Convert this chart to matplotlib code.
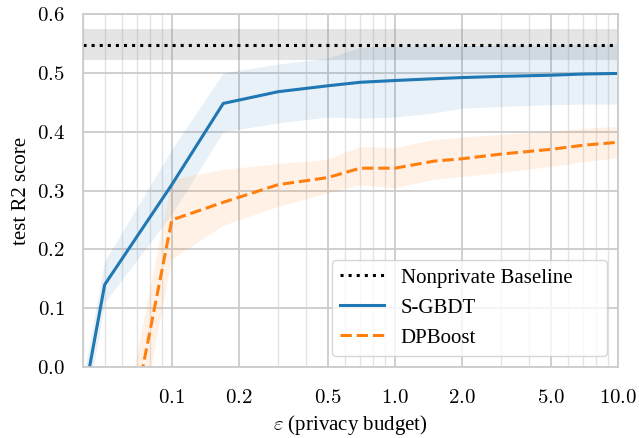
import numpy as np
import matplotlib
matplotlib.use("Agg")
import matplotlib.pyplot as plt
from matplotlib.ticker import FixedLocator, FuncFormatter, NullFormatter

plt.rcParams['font.family'] = 'serif'
plt.rcParams['font.serif'] = ['Liberation Serif', 'DejaVu Serif']
plt.rcParams['mathtext.fontset'] = 'cm'

# privacy budgets
eps = [0.04, 0.05, 0.1, 0.17, 0.3, 0.5, 0.7, 1.0, 1.5, 2.0, 3.0, 5.0, 7.0, 10.0]

# S-GBDT mean and band
sgbdt = [-0.06, 0.14, 0.31, 0.448, 0.468, 0.478, 0.484, 0.487, 0.490, 0.492, 0.494, 0.496, 0.498, 0.499]
sgbdt_lo = [-0.10, 0.11, 0.26, 0.40, 0.415, 0.425, 0.423, 0.425, 0.432, 0.440, 0.443, 0.446, 0.447, 0.447]
sgbdt_hi = [-0.02, 0.18, 0.37, 0.50, 0.515, 0.525, 0.544, 0.545, 0.546, 0.546, 0.547, 0.547, 0.547, 0.548]

# DPBoost mean and band
dpboost = [-0.50, -0.33, 0.25, 0.28, 0.31, 0.322, 0.338, 0.338, 0.350, 0.354, 0.362, 0.370, 0.377, 0.382]
dpboost_lo = [-0.60, -0.42, 0.182, 0.24, 0.272, 0.295, 0.309, 0.304, 0.318, 0.323, 0.330, 0.340, 0.348, 0.355]
dpboost_hi = [-0.40, -0.26, 0.318, 0.335, 0.345, 0.352, 0.374, 0.372, 0.386, 0.390, 0.395, 0.400, 0.405, 0.408]

# nonprivate baseline
baseline = 0.548
baseline_lo, baseline_hi = 0.521, 0.575

xticks = [0.1, 0.2, 0.5, 1.0, 2.0, 5.0, 10.0]
yticks = [0.0, 0.1, 0.2, 0.3, 0.4, 0.5, 0.6]

fig, ax = plt.subplots(figsize=(6.39, 4.38), dpi=100)
fig.subplots_adjust(left=0.130, right=0.967, top=0.968, bottom=0.162)

ax.axhspan(baseline_lo, baseline_hi, color='gray', alpha=0.2, lw=0)
ax.axhline(baseline, color='black', ls=':', lw=2.2, label='Nonprivate Baseline')

ax.fill_between(eps, sgbdt_lo, sgbdt_hi, color='#1f77b4', alpha=0.1, lw=0)
ax.plot(eps, sgbdt, color='#1f77b4', lw=2.2, label='S-GBDT')

ax.fill_between(eps, dpboost_lo, dpboost_hi, color='#ff7f0e', alpha=0.1, lw=0)
ax.plot(eps, dpboost, color='#ff7f0e', lw=2.2, ls='--', label='DPBoost')

ax.set_xscale('log')
ax.set_xlim(0.04, 10)
ax.set_ylim(0, 0.6)
ax.xaxis.set_major_locator(FixedLocator(xticks))
ax.xaxis.set_major_formatter(FuncFormatter(lambda v, p: '$%.1f$' % v))
ax.xaxis.set_minor_formatter(NullFormatter())
ax.yaxis.set_major_locator(FixedLocator(yticks))
ax.yaxis.set_major_formatter(FuncFormatter(lambda v, p: '$%.1f$' % v))

ax.grid(which='major', color='#cccccc', lw=1.3)
ax.grid(which='minor', axis='x', color='#e3e3e3', lw=1.0)
ax.set_axisbelow(True)
ax.tick_params(which='both', length=0, labelsize=15)
ax.tick_params(axis='y', pad=13)
ax.tick_params(axis='x', pad=15.5)
for s in ax.spines.values():
    s.set_color('#cccccc')
    s.set_linewidth(1.3)

ax.set_xlabel(r'$\varepsilon$ (privacy budget)', fontsize=15, labelpad=4)
ax.set_ylabel('test R2 score', fontsize=15)
ax.legend(loc='lower left', bbox_to_anchor=(0.465, 0.031, 0.514, 0.275),
          mode='expand', borderaxespad=0, fontsize=15, edgecolor='#cccccc',
          handlelength=2.1, handletextpad=0.8)

fig.savefig('out.png', dpi=100)
